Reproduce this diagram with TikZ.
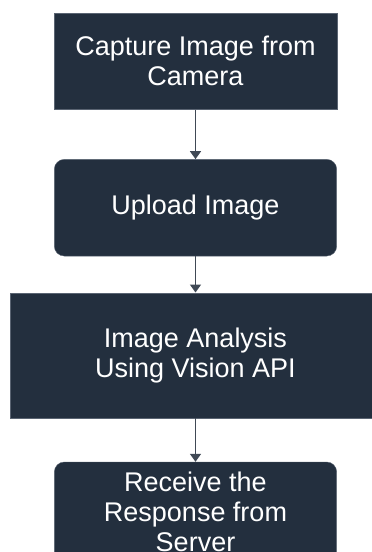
\documentclass[tikz,border=0pt]{standalone}
\usepackage{fontspec}
\setmainfont{Liberation Sans}
\usetikzlibrary{arrows.meta}
\definecolor{boxfill}{HTML}{232F3E}
\definecolor{boxedge}{HTML}{5A6472}
\definecolor{linkcol}{HTML}{404955}
\tikzset{
  stepbox/.style={fill=boxfill, draw=boxedge, line width=0.4pt, text=white,
    align=center, inner sep=0pt, font=\fontsize{27}{30}\selectfont},
  roundbox/.style={stepbox, rounded corners=10pt},
  link/.style={draw=linkcol, line width=1.4pt,
    -{Triangle[width=11pt,length=8pt]}}
}
\begin{document}
\begin{tikzpicture}[x=1pt,y=1pt]
  \useasboundingbox (0,0) rectangle (372,-552);
  \clip (0,0) rectangle (372,-552);
  \node[stepbox, minimum width=282.4pt, minimum height=96pt]
    (capture) at (195.5,-61.3) {Capture Image from\\Camera};
  \node[roundbox, minimum width=282.4pt, minimum height=96.7pt]
    (upload) at (195.5,-207.7) {Upload Image};
  \node[stepbox, minimum width=370.4pt, minimum height=125pt]
    (analysis) at (195.5,-355.2) {Image Analysis\\Using Vision API};
  \node[roundbox, minimum width=282.4pt, minimum height=100pt]
    (receive) at (195.5,-512) {Receive the\\Response from\\Server};
  \draw[link] (capture.south) -- (upload.north);
  \draw[link] (upload.south) -- (analysis.north);
  \draw[link] (analysis.south) -- (receive.north);
\end{tikzpicture}
\end{document}
